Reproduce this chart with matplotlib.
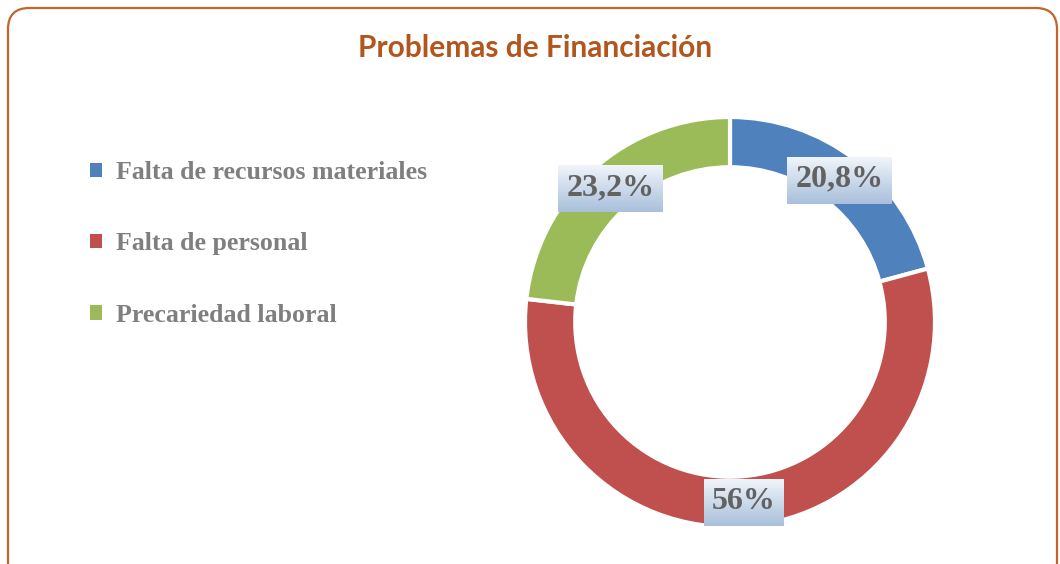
import matplotlib.pyplot as plt
import numpy as np
from matplotlib.patches import FancyBboxPatch, Patch

# data
categories = ["Falta de recursos materiales", "Falta de personal", "Precariedad laboral"]
values = [20.8, 56, 23.2]
value_labels = ["20,8%", "56%", "23,2%"]
colors = ["#4f81bd", "#c0504d", "#9bbb59"]

W, H = 1060, 564
fig = plt.figure(figsize=(W / 100, H / 100), dpi=100)

# rounded frame around the chart
frame = FancyBboxPatch((8 / W, -20 / H), 1049 / W, (H - 8 + 20) / H,
                       boxstyle="round,pad=0,rounding_size=0.02",
                       transform=fig.transFigure, facecolor="none",
                       edgecolor="#c0652b", linewidth=1.6, mutation_aspect=W / H)
fig.patches.append(frame)

fig.text(535 / W, 1 - 48 / H, "Problemas de Financiación", ha="center", va="center",
         fontsize=21.5, fontweight="bold", color="#b3561e", family="Lato")

# donut
cx, cy, r = 730, 322, 205
ax = fig.add_axes([(cx - r) / W, (H - cy - r) / H, 2 * r / W, 2 * r / H])
wedges, _ = ax.pie(values, colors=colors, startangle=90, counterclock=False,
                   radius=1, wedgeprops=dict(width=0.245, edgecolor="white", linewidth=3))
ax.set_xlim(-1, 1)
ax.set_ylim(-1, 1)
ax.set_aspect("auto")

# value labels in the middle of the ring
texts = []
start = 90
for v, lab in zip(values, value_labels):
    ang = np.deg2rad(start - v * 3.6 / 2)
    start -= v * 3.6
    rr = 1 - 0.245 / 2
    t = ax.text(rr * np.cos(ang), rr * np.sin(ang), lab, ha="center", va="center",
                fontsize=23, fontweight="bold", color="#626262",
                family="Liberation Serif", zorder=5)
    texts.append(t)

# gradient boxes behind the labels
fig.canvas.draw()
renderer = fig.canvas.get_renderer()
grad = np.linspace(0, 1, 64).reshape(-1, 1)
top = np.array([0.94, 0.96, 0.98])
bot = np.array([0.66, 0.75, 0.86])
img = top + (bot - top) * grad[:, :, None]
for t in texts:
    bb = t.get_window_extent(renderer)
    x0, y0 = bb.x0 - 8, bb.y0 - 10
    x1, y1 = bb.x1 + 8, bb.y1 + 8
    (dx0, dy0), (dx1, dy1) = ax.transData.inverted().transform([(x0, y0), (x1, y1)])
    ax.imshow(img, extent=[dx0, dx1, dy0, dy1], aspect="auto", zorder=4, origin="upper")
ax.set_xlim(-1, 1)
ax.set_ylim(-1, 1)

# legend
handles = [Patch(facecolor=c, edgecolor="none") for c in colors]
leg = fig.legend(handles, categories, loc="upper left",
                 bbox_to_anchor=(90 / W, 1 - 161 / H), frameon=False,
                 handlelength=0.47, handleheight=0.47, handletextpad=0.55,
                 labelspacing=1.87, borderpad=0, borderaxespad=0,
                 prop=dict(family="Liberation Serif", weight="bold", size=18.6))
for txt in leg.get_texts():
    txt.set_color("#7f7f7f")

fig.savefig("out.png", dpi=100)
